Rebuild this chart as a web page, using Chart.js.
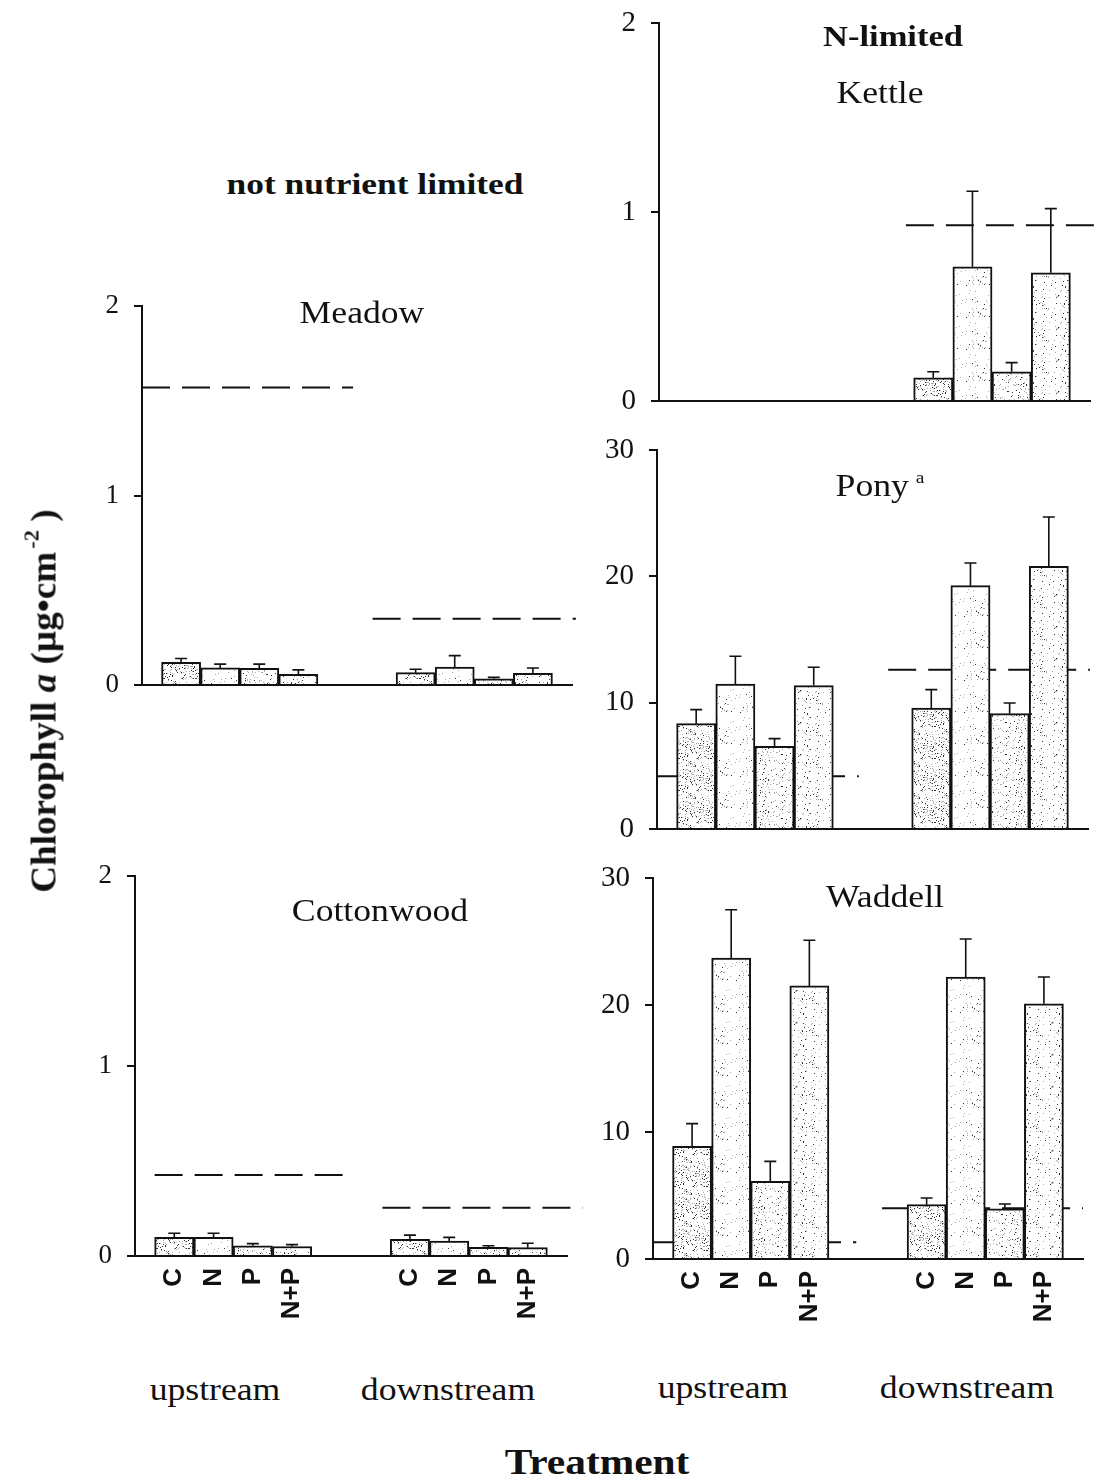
<!DOCTYPE html>
<html>
<head>
<meta charset="utf-8">
<script src="https://cdn.jsdelivr.net/npm/chart.js@4.4.1/dist/chart.umd.min.js"></script>
<style>
  html, body { margin: 0; padding: 0; background: #fff; }
  body { width: 1105px; height: 1484px; position: relative; overflow: hidden;
         font-family: "Liberation Serif", "Times New Roman", serif; color: #111; }
  .lbl { position: absolute; white-space: nowrap; line-height: 1; font-size: 31px;
         transform: translate(-50%, -50%) scaleX(1.15); z-index: 2; }
  .b { font-weight: bold; }
  .ytitle { position: absolute; left: 44px; top: 701px; white-space: nowrap; line-height: 1;
            font-size: 35px; font-weight: bold; transform: translate(-50%, -50%) rotate(-90deg) scaleX(1.06); z-index: 2; }
  .ytitle .sup { font-size: 21px; position: relative; top: -17px; margin: 0 8px 0 3px; }
  .sup-a { font-size: 17px; position: relative; top: -13px; margin-left: 6px; }
</style>
</head>
<body>

<div class="lbl b" style="left:375px;top:184px;font-size:30px;transform:translate(-50%,-50%) scaleX(1.18)">not nutrient limited</div>
<div class="lbl b" style="left:893px;top:36px;font-size:30px">N-limited</div>
<div class="lbl" style="left:880px;top:92px">Kettle</div>
<div class="lbl" style="left:362px;top:312px">Meadow</div>
<div class="lbl" style="left:380px;top:910px">Cottonwood</div>
<div class="lbl" style="left:880px;top:485px">Pony<span class="sup-a">a</span></div>
<div class="lbl" style="left:885px;top:896px">Waddell</div>
<div class="lbl" style="left:215px;top:1389px">upstream</div>
<div class="lbl" style="left:448px;top:1389px">downstream</div>
<div class="lbl" style="left:723px;top:1387px">upstream</div>
<div class="lbl" style="left:967px;top:1387px">downstream</div>
<div class="lbl b" style="left:597px;top:1462px;font-size:36px">Treatment</div>
<div class="ytitle">Chlorophyll <i>a</i> (µg•cm<span class="sup">-2</span>)</div>

<script>
// treatments, upstream block at 1-4 and downstream block at 7-10 on the x scale
const TREATMENTS = ["C", "N", "P", "N+P"];
const SLOTS = [1, 2, 3, 4, 7, 8, 9, 10];

// mean chlorophyll a and standard error, order: up C,N,P,N+P then down C,N,P,N+P
const meadowMean = [0.12, 0.09, 0.088, 0.056, 0.065, 0.095, 0.033, 0.062];
const meadowSE   = [0.02, 0.02, 0.022, 0.024, 0.018, 0.06, 0.007, 0.028];
const meadowRef  = [1.57, 0.35];

const cottonMean = [0.098, 0.098, 0.054, 0.05, 0.088, 0.079, 0.045, 0.044];
const cottonSE   = [0.022, 0.022, 0.011, 0.01, 0.022, 0.019, 0.009, 0.023];
const cottonRef  = [0.426, 0.254];

const kettleMean = [null, null, null, null, 0.123, 0.71, 0.155, 0.678];
const kettleSE   = [null, null, null, null, 0.032, 0.40, 0.048, 0.34];
const kettleRef  = [null, 0.93];

const ponyMean = [8.34, 11.48, 6.54, 11.35, 9.58, 19.26, 9.13, 20.79];
const ponySE   = [1.11, 2.19, 0.61, 1.45, 1.45, 1.8, 0.84, 3.91];
const ponyRef  = [4.17, 12.6];

const waddellMean = [8.87, 23.7, 6.12, 21.5, 4.28, 22.2, 3.96, 20.1];
const waddellSE   = [1.79, 3.8, 1.57, 3.6, 0.52, 3.0, 0.37, 2.1];
const waddellRef  = [1.31, 4.0];

const INK = "#111";
// fixed axis boxes so every plot area lands at a known spot
const YW = 90, PT = 44, PR = 34;

// speckled fill, one density per treatment
function stipple(density, seed) {
  const n = 32;
  const c = document.createElement("canvas");
  c.width = c.height = n;
  const g = c.getContext("2d");
  g.fillStyle = "#fff";
  g.fillRect(0, 0, n, n);
  let s = seed;
  const next = () => (s = (s * 16807) % 2147483647);
  for (let i = 0; i < n * n * density; i++) {
    const x = next() % n, y = next() % n;
    g.fillStyle = next() % 3 === 0 ? "#333" : "#aaa";
    g.fillRect(x, y, 1, 1);
  }
  return g.createPattern(c, "repeat");
}
const FILLS = [stipple(0.16, 11), stipple(0.04, 23), stipple(0.09, 37), stipple(0.06, 51)];

const errorBars = {
  id: "errorBars",
  afterDatasetsDraw(chart) {
    const { ctx } = chart;
    const y = chart.scales.y;
    chart.data.datasets.forEach((ds, di) => {
      if (!ds.se) return;
      chart.getDatasetMeta(di).data.forEach((bar, i) => {
        const m = ds.data[i].y, e = ds.se[i];
        if (m == null || e == null) return;
        const top = y.getPixelForValue(m + e);
        ctx.save();
        ctx.strokeStyle = INK;
        ctx.lineWidth = 1.6;
        ctx.beginPath();
        ctx.moveTo(bar.x, bar.y);
        ctx.lineTo(bar.x, top);
        ctx.moveTo(bar.x - 6, top);
        ctx.lineTo(bar.x + 6, top);
        ctx.stroke();
        ctx.restore();
      });
    });
  }
};

const PANELS = [
  { mean: meadowMean, se: meadowSE, ref: meadowRef, yMax: 2, step: 1, labels: false, tickSize: 27,
    area: { l: 142, t: 306, r: 572, b: 685 }, span: [[0, 5.4], [5.9, 11.1]] },
  { mean: cottonMean, se: cottonSE, ref: cottonRef, yMax: 2, step: 1, labels: true, tickSize: 27,
    area: { l: 135, t: 876, r: 567, b: 1256 }, span: [[0.5, 5.4], [6.3, 11.4]] },
  { mean: kettleMean, se: kettleSE, ref: kettleRef, yMax: 2, step: 1, labels: false, tickSize: 29,
    area: { l: 659, t: 23, r: 1090, b: 401 }, span: [[0, 5.4], [6.3, 11.4]] },
  { mean: ponyMean, se: ponySE, ref: ponyRef, yMax: 30, step: 10, labels: false, tickSize: 29,
    area: { l: 657, t: 450, r: 1088, b: 829 }, span: [[0, 5.15], [5.9, 11.05]] },
  { mean: waddellMean, se: waddellSE, ref: waddellRef, yMax: 30, step: 10, labels: true, tickSize: 29,
    area: { l: 653, t: 878, r: 1083, b: 1259 }, span: [[0, 5.2], [5.86, 11]] },
];

function makePanel(p) {
  const xh = p.labels ? 92 : 44;
  const w = p.area.r - p.area.l + YW + PR;
  const h = p.area.b - p.area.t + PT + xh;
  const cv = document.createElement("canvas");
  cv.width = w; cv.height = h;
  cv.style.cssText = `position:absolute;left:${p.area.l - YW}px;top:${p.area.t - PT}px;width:${w}px;height:${h}px`;
  document.body.appendChild(cv);

  const datasets = [{
    type: "bar",
    data: SLOTS.map((x, i) => ({ x, y: p.mean[i] })),
    se: p.se,
    backgroundColor: SLOTS.map((_, i) => FILLS[i % 4]),
    borderColor: INK,
    borderWidth: 2,
    barPercentage: 1,
    categoryPercentage: 1,
    order: 1,
  }];
  p.ref.forEach((v, k) => {
    if (v == null) return;
    datasets.push({
      type: "line",
      data: [{ x: p.span[k][0], y: v }, { x: p.span[k][1], y: v }],
      borderColor: INK, borderWidth: 2, borderDash: [28, 12],
      pointRadius: 0, clip: false, order: 2,
    });
  });

  new Chart(cv, {
    type: "bar",
    data: { datasets },
    options: {
      animation: false, responsive: false, events: [],
      layout: { padding: { top: PT, right: PR, left: 0, bottom: 0 } },
      plugins: { legend: { display: false }, tooltip: { enabled: false } },
      scales: {
        x: {
          type: "linear", min: 0, max: 11, offset: false,
          afterBuildTicks: (s) => { s.ticks = SLOTS.map((v) => ({ value: v })); },
          afterFit: (s) => { s.height = xh; },
          grid: { display: false, drawTicks: false },
          border: { color: INK, width: 2 },
          ticks: {
            display: p.labels, autoSkip: false, minRotation: 90, maxRotation: 90, padding: 12,
            color: INK, font: { family: "Liberation Sans", size: 26, weight: "bold" },
            callback: (v, i) => TREATMENTS[i % 4],
          },
        },
        y: {
          min: 0, max: p.yMax,
          afterFit: (s) => { s.width = YW; },
          grid: { drawOnChartArea: false, drawTicks: true, tickLength: 8, color: INK, lineWidth: 2 },
          border: { color: INK, width: 2 },
          ticks: { stepSize: p.step, padding: 15, color: INK,
                   font: { family: "Liberation Serif", size: p.tickSize } },
        },
      },
    },
    plugins: [errorBars],
  });
}

PANELS.forEach(makePanel);
</script>
</body>
</html>
